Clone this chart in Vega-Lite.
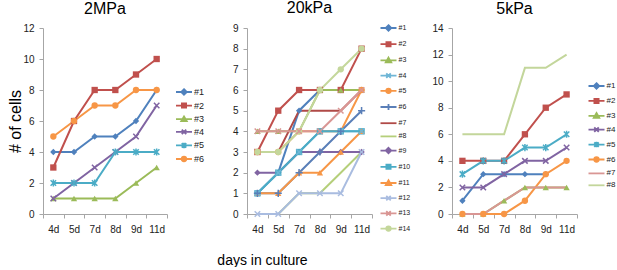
{
  "$schema": "https://vega.github.io/schema/vega-lite/v6.json",
  "background": "white",
  "padding": {"left": 7, "top": 0, "right": 0, "bottom": 0},
  "bounds": "flush",
  "spacing": 80,
  "data": {"values": [
    {"panel":"2MPa","series":"#1","day":"4d","cells":4},{"panel":"2MPa","series":"#1","day":"5d","cells":4},{"panel":"2MPa","series":"#1","day":"7d","cells":5},{"panel":"2MPa","series":"#1","day":"8d","cells":5},{"panel":"2MPa","series":"#1","day":"9d","cells":6},{"panel":"2MPa","series":"#1","day":"11d","cells":8},
    {"panel":"2MPa","series":"#2","day":"4d","cells":3},{"panel":"2MPa","series":"#2","day":"5d","cells":6},{"panel":"2MPa","series":"#2","day":"7d","cells":8},{"panel":"2MPa","series":"#2","day":"8d","cells":8},{"panel":"2MPa","series":"#2","day":"9d","cells":9},{"panel":"2MPa","series":"#2","day":"11d","cells":10},
    {"panel":"2MPa","series":"#3","day":"4d","cells":1},{"panel":"2MPa","series":"#3","day":"5d","cells":1},{"panel":"2MPa","series":"#3","day":"7d","cells":1},{"panel":"2MPa","series":"#3","day":"8d","cells":1},{"panel":"2MPa","series":"#3","day":"9d","cells":2},{"panel":"2MPa","series":"#3","day":"11d","cells":3},
    {"panel":"2MPa","series":"#4","day":"4d","cells":1},{"panel":"2MPa","series":"#4","day":"5d","cells":2},{"panel":"2MPa","series":"#4","day":"7d","cells":3},{"panel":"2MPa","series":"#4","day":"8d","cells":4},{"panel":"2MPa","series":"#4","day":"9d","cells":5},{"panel":"2MPa","series":"#4","day":"11d","cells":7},
    {"panel":"2MPa","series":"#5","day":"4d","cells":2},{"panel":"2MPa","series":"#5","day":"5d","cells":2},{"panel":"2MPa","series":"#5","day":"7d","cells":2},{"panel":"2MPa","series":"#5","day":"8d","cells":4},{"panel":"2MPa","series":"#5","day":"9d","cells":4},{"panel":"2MPa","series":"#5","day":"11d","cells":4},
    {"panel":"2MPa","series":"#6","day":"4d","cells":5},{"panel":"2MPa","series":"#6","day":"5d","cells":6},{"panel":"2MPa","series":"#6","day":"7d","cells":7},{"panel":"2MPa","series":"#6","day":"8d","cells":7},{"panel":"2MPa","series":"#6","day":"9d","cells":8},{"panel":"2MPa","series":"#6","day":"11d","cells":8},

    {"panel":"20kPa","series":"#1","day":"4d","cells":1},{"panel":"20kPa","series":"#1","day":"5d","cells":2},{"panel":"20kPa","series":"#1","day":"7d","cells":5},{"panel":"20kPa","series":"#1","day":"8d","cells":6},{"panel":"20kPa","series":"#1","day":"9d","cells":6},{"panel":"20kPa","series":"#1","day":"11d","cells":6},
    {"panel":"20kPa","series":"#2","day":"4d","cells":3},{"panel":"20kPa","series":"#2","day":"5d","cells":5},{"panel":"20kPa","series":"#2","day":"7d","cells":6},{"panel":"20kPa","series":"#2","day":"8d","cells":6},{"panel":"20kPa","series":"#2","day":"9d","cells":6},{"panel":"20kPa","series":"#2","day":"11d","cells":8},
    {"panel":"20kPa","series":"#3","day":"4d","cells":4},{"panel":"20kPa","series":"#3","day":"5d","cells":4},{"panel":"20kPa","series":"#3","day":"7d","cells":4},{"panel":"20kPa","series":"#3","day":"8d","cells":6},{"panel":"20kPa","series":"#3","day":"9d","cells":6},{"panel":"20kPa","series":"#3","day":"11d","cells":6},
    {"panel":"20kPa","series":"#4","day":"4d","cells":1},{"panel":"20kPa","series":"#4","day":"5d","cells":2},{"panel":"20kPa","series":"#4","day":"7d","cells":3},{"panel":"20kPa","series":"#4","day":"8d","cells":4},{"panel":"20kPa","series":"#4","day":"9d","cells":4},{"panel":"20kPa","series":"#4","day":"11d","cells":4},
    {"panel":"20kPa","series":"#5","day":"4d","cells":3},{"panel":"20kPa","series":"#5","day":"5d","cells":3},{"panel":"20kPa","series":"#5","day":"7d","cells":4},{"panel":"20kPa","series":"#5","day":"8d","cells":4},{"panel":"20kPa","series":"#5","day":"9d","cells":4},{"panel":"20kPa","series":"#5","day":"11d","cells":6},
    {"panel":"20kPa","series":"#6","day":"4d","cells":1},{"panel":"20kPa","series":"#6","day":"5d","cells":1},{"panel":"20kPa","series":"#6","day":"7d","cells":2},{"panel":"20kPa","series":"#6","day":"8d","cells":3},{"panel":"20kPa","series":"#6","day":"9d","cells":4},{"panel":"20kPa","series":"#6","day":"11d","cells":5},
    {"panel":"20kPa","series":"#7","day":"4d","cells":3},{"panel":"20kPa","series":"#7","day":"5d","cells":3},{"panel":"20kPa","series":"#7","day":"7d","cells":5},{"panel":"20kPa","series":"#7","day":"8d","cells":5},{"panel":"20kPa","series":"#7","day":"9d","cells":5},{"panel":"20kPa","series":"#7","day":"11d","cells":6},
    {"panel":"20kPa","series":"#8","day":"4d","cells":0},{"panel":"20kPa","series":"#8","day":"5d","cells":0},{"panel":"20kPa","series":"#8","day":"7d","cells":1},{"panel":"20kPa","series":"#8","day":"8d","cells":1},{"panel":"20kPa","series":"#8","day":"9d","cells":2},{"panel":"20kPa","series":"#8","day":"11d","cells":3},
    {"panel":"20kPa","series":"#9","day":"4d","cells":2},{"panel":"20kPa","series":"#9","day":"5d","cells":2},{"panel":"20kPa","series":"#9","day":"7d","cells":3},{"panel":"20kPa","series":"#9","day":"8d","cells":3},{"panel":"20kPa","series":"#9","day":"9d","cells":3},{"panel":"20kPa","series":"#9","day":"11d","cells":3},
    {"panel":"20kPa","series":"#10","day":"4d","cells":1},{"panel":"20kPa","series":"#10","day":"5d","cells":2},{"panel":"20kPa","series":"#10","day":"7d","cells":3},{"panel":"20kPa","series":"#10","day":"8d","cells":4},{"panel":"20kPa","series":"#10","day":"9d","cells":4},{"panel":"20kPa","series":"#10","day":"11d","cells":4},
    {"panel":"20kPa","series":"#11","day":"4d","cells":1},{"panel":"20kPa","series":"#11","day":"5d","cells":1},{"panel":"20kPa","series":"#11","day":"7d","cells":2},{"panel":"20kPa","series":"#11","day":"8d","cells":2},{"panel":"20kPa","series":"#11","day":"9d","cells":3},{"panel":"20kPa","series":"#11","day":"11d","cells":4},
    {"panel":"20kPa","series":"#12","day":"4d","cells":0},{"panel":"20kPa","series":"#12","day":"5d","cells":0},{"panel":"20kPa","series":"#12","day":"7d","cells":1},{"panel":"20kPa","series":"#12","day":"8d","cells":1},{"panel":"20kPa","series":"#12","day":"9d","cells":1},{"panel":"20kPa","series":"#12","day":"11d","cells":3},
    {"panel":"20kPa","series":"#13","day":"4d","cells":4},{"panel":"20kPa","series":"#13","day":"5d","cells":4},{"panel":"20kPa","series":"#13","day":"7d","cells":4},{"panel":"20kPa","series":"#13","day":"8d","cells":4},{"panel":"20kPa","series":"#13","day":"9d","cells":5},{"panel":"20kPa","series":"#13","day":"11d","cells":6},
    {"panel":"20kPa","series":"#14","day":"4d","cells":3},{"panel":"20kPa","series":"#14","day":"5d","cells":3},{"panel":"20kPa","series":"#14","day":"7d","cells":4},{"panel":"20kPa","series":"#14","day":"8d","cells":6},{"panel":"20kPa","series":"#14","day":"9d","cells":7},{"panel":"20kPa","series":"#14","day":"11d","cells":8},

    {"panel":"5kPa","series":"#1","day":"4d","cells":1},{"panel":"5kPa","series":"#1","day":"5d","cells":3},{"panel":"5kPa","series":"#1","day":"7d","cells":3},{"panel":"5kPa","series":"#1","day":"8d","cells":3},{"panel":"5kPa","series":"#1","day":"9d","cells":3},
    {"panel":"5kPa","series":"#2","day":"4d","cells":4},{"panel":"5kPa","series":"#2","day":"5d","cells":4},{"panel":"5kPa","series":"#2","day":"7d","cells":4},{"panel":"5kPa","series":"#2","day":"8d","cells":6},{"panel":"5kPa","series":"#2","day":"9d","cells":8},{"panel":"5kPa","series":"#2","day":"11d","cells":9},
    {"panel":"5kPa","series":"#3","day":"4d","cells":0},{"panel":"5kPa","series":"#3","day":"5d","cells":0},{"panel":"5kPa","series":"#3","day":"7d","cells":1},{"panel":"5kPa","series":"#3","day":"8d","cells":2},{"panel":"5kPa","series":"#3","day":"9d","cells":2},{"panel":"5kPa","series":"#3","day":"11d","cells":2},
    {"panel":"5kPa","series":"#4","day":"4d","cells":2},{"panel":"5kPa","series":"#4","day":"5d","cells":2},{"panel":"5kPa","series":"#4","day":"7d","cells":3},{"panel":"5kPa","series":"#4","day":"8d","cells":4},{"panel":"5kPa","series":"#4","day":"9d","cells":4},{"panel":"5kPa","series":"#4","day":"11d","cells":5},
    {"panel":"5kPa","series":"#5","day":"4d","cells":3},{"panel":"5kPa","series":"#5","day":"5d","cells":4},{"panel":"5kPa","series":"#5","day":"7d","cells":4},{"panel":"5kPa","series":"#5","day":"8d","cells":5},{"panel":"5kPa","series":"#5","day":"9d","cells":5},{"panel":"5kPa","series":"#5","day":"11d","cells":6},
    {"panel":"5kPa","series":"#6","day":"4d","cells":0},{"panel":"5kPa","series":"#6","day":"5d","cells":0},{"panel":"5kPa","series":"#6","day":"7d","cells":0},{"panel":"5kPa","series":"#6","day":"8d","cells":1},{"panel":"5kPa","series":"#6","day":"9d","cells":3},{"panel":"5kPa","series":"#6","day":"11d","cells":4},
    {"panel":"5kPa","series":"#7","day":"4d","cells":0},{"panel":"5kPa","series":"#7","day":"5d","cells":0},{"panel":"5kPa","series":"#7","day":"7d","cells":1},{"panel":"5kPa","series":"#7","day":"8d","cells":2},{"panel":"5kPa","series":"#7","day":"9d","cells":2},{"panel":"5kPa","series":"#7","day":"11d","cells":2},
    {"panel":"5kPa","series":"#8","day":"4d","cells":6},{"panel":"5kPa","series":"#8","day":"5d","cells":6},{"panel":"5kPa","series":"#8","day":"7d","cells":6},{"panel":"5kPa","series":"#8","day":"8d","cells":11},{"panel":"5kPa","series":"#8","day":"9d","cells":11},{"panel":"5kPa","series":"#8","day":"11d","cells":12}
  ]},
  "resolve": {"scale": {"color": "independent", "shape": "independent"}, "legend": {"color": "independent", "shape": "independent"}},
  "hconcat": [
    {
      "width": 124, "height": 186,
      "title": {"text": "2MPa", "fontSize": 16, "fontWeight": "normal", "offset": 6, "color": "#000"},
      "transform": [{"filter": "datum.panel === '2MPa'"}],
      "encoding": {
        "x": {"field": "day", "type": "ordinal", "sort": ["4d","5d","7d","8d","9d","11d"], "bandPosition": 0.5,
              "scale": {"type": "band", "paddingInner": 0, "paddingOuter": 0},
              "axis": {"title": "days in culture", "titleX": 219, "titleY": 46, "titleBaseline": "middle", "titleAlign": "center", "titleFontSize": 14, "titleFontWeight": "normal", "titleColor": "#000", "tickBand": "extent", "labelAngle": 0, "labelOverlap": false, "labelFontSize": 10, "labelColor": "#222", "labelPadding": 6, "tickSize": 4, "domainColor": "#A6A6A6", "tickColor": "#A6A6A6"}},
        "y": {"field": "cells", "type": "quantitative", "scale": {"domain": [0, 12], "nice": false},
              "axis": {"values": [0,2,4,6,8,10,12], "grid": false, "title": "# of cells", "titleFontSize": 16, "titleFontWeight": "normal", "titleColor": "#000", "titlePadding": -1, "labelFontSize": 10, "labelColor": "#222", "labelPadding": 5, "tickSize": 4, "domainColor": "#A6A6A6", "tickColor": "#A6A6A6"}},
        "color": {"field": "series", "type": "nominal",
                  "scale": {"domain": ["#1","#2","#3","#4","#5","#6"], "range": ["#4F81BD","#C0504D","#9BBB59","#8064A2","#4BACC6","#F79646"]},
                  "legend": {"title": null, "orient": "none", "legendX": 135, "legendY": 58, "padding": 0, "symbolSize": 100, "rowPadding": 0.6, "labelOffset": 4, "labelFontSize": 9, "labelColor": "#222",
                    "encode": {"symbols": {"update": {
                      "shape": {"signal": "{'#1':'M-1.6,0L1.6,0M0,-0.55L0.55,0L0,0.55L-0.55,0Z','#2':'M-1.6,0L1.6,0M-0.42,-0.42L0.42,-0.42L0.42,0.42L-0.42,0.42Z','#3':'M-1.6,0L1.6,0M0,-0.55L0.55,0.4L-0.55,0.4Z','#4':'M-1.6,0L1.6,0M-0.45,-0.45L0.45,0.45M0.45,-0.45L-0.45,0.45','#5':'M-1.6,0L1.6,0M-0.45,-0.45L0.45,0.45M0.45,-0.45L-0.45,0.45M0,-0.55L0,0.55','#6':'M-1.6,0L1.6,0M0.45,0A0.45,0.45,0,1,1,-0.45,0A0.45,0.45,0,1,1,0.45,0Z'}[datum.value]"},
                      "fill": {"signal": "{'#1':'#4F81BD','#2':'#C0504D','#3':'#9BBB59','#4':'#8064A2','#5':'#4BACC6','#6':'#F79646'}[datum.value]"},
                      "stroke": {"signal": "{'#1':'#4F81BD','#2':'#C0504D','#3':'#9BBB59','#4':'#8064A2','#5':'#4BACC6','#6':'#F79646'}[datum.value]"},
                      "size": {"value": 100},
                      "strokeWidth": {"value": 1.8}, "opacity": {"value": 1}, "fillOpacity": {"value": 1}, "strokeOpacity": {"value": 1}}}}}}
      },
      "layer": [
        {"mark": {"type": "line", "strokeWidth": 2}},
        {"transform": [{"filter": {"field": "series", "oneOf": ["#1","#2","#3","#6"]}}],
         "mark": {"type": "point", "filled": true, "opacity": 1, "size": 40},
         "encoding": {"shape": {"field": "series", "type": "nominal", "legend": null, "scale": {"domain": ["#1","#2","#3","#4","#5","#6","none"], "range": ["diamond","square","triangle-up","M-1,-1L1,1M1,-1L-1,1","M-1,-1L1,1M1,-1L-1,1M0,-1.3L0,1.3","circle","circle"]}}}},
        {"transform": [{"filter": {"field": "series", "oneOf": ["#4","#5"]}}],
         "mark": {"type": "point", "filled": false, "opacity": 1, "size": 30, "strokeWidth": 1.5},
         "encoding": {"shape": {"field": "series", "type": "nominal", "legend": null, "scale": {"domain": ["#1","#2","#3","#4","#5","#6","none"], "range": ["diamond","square","triangle-up","M-1,-1L1,1M1,-1L-1,1","M-1,-1L1,1M1,-1L-1,1M0,-1.3L0,1.3","circle","circle"]}}}}
      ]
    },
    {
      "width": 125, "height": 186,
      "title": {"text": "20kPa", "fontSize": 16, "fontWeight": "normal", "offset": 6, "color": "#000"},
      "transform": [{"filter": "datum.panel === '20kPa'"}],
      "encoding": {
        "x": {"field": "day", "type": "ordinal", "sort": ["4d","5d","7d","8d","9d","11d"], "bandPosition": 0.5,
              "scale": {"type": "band", "paddingInner": 0, "paddingOuter": 0},
              "axis": {"title": null, "tickBand": "extent", "labelAngle": 0, "labelOverlap": false, "labelFontSize": 10, "labelColor": "#222", "labelPadding": 6, "tickSize": 4, "domainColor": "#A6A6A6", "tickColor": "#A6A6A6"}},
        "y": {"field": "cells", "type": "quantitative", "scale": {"domain": [0, 9], "nice": false},
              "axis": {"values": [0,1,2,3,4,5,6,7,8,9], "grid": false, "title": null, "labelFontSize": 10, "labelColor": "#222", "labelPadding": 5, "tickSize": 4, "domainColor": "#A6A6A6", "tickColor": "#A6A6A6"}},
        "color": {"field": "series", "type": "nominal",
                  "scale": {"domain": ["#1","#2","#3","#4","#5","#6","#7","#8","#9","#10","#11","#12","#13","#14"], "range": ["#4F81BD","#C0504D","#9BBB59","#6FB6D6","#F79646","#5A7FB8","#B04A47","#B5CF7A","#8064A2","#4BACC6","#F79646","#A9BCE0","#D99694","#C4D79B"]},
                  "legend": {"title": null, "orient": "none", "legendX": 135.5, "legendY": -6, "padding": 0, "symbolSize": 100, "rowPadding": 3.2, "labelOffset": 4, "labelFontSize": 7, "labelColor": "#222",
                    "encode": {"symbols": {"update": {
                      "shape": {"signal": "{'#1':'M-1.6,0L1.6,0M0,-0.55L0.55,0L0,0.55L-0.55,0Z','#2':'M-1.6,0L1.6,0M-0.42,-0.42L0.42,-0.42L0.42,0.42L-0.42,0.42Z','#3':'M-1.6,0L1.6,0M0,-0.55L0.55,0.4L-0.55,0.4Z','#4':'M-1.6,0L1.6,0M-0.45,-0.45L0.45,0.45M0.45,-0.45L-0.45,0.45','#5':'M-1.6,0L1.6,0M0.45,0A0.45,0.45,0,1,1,-0.45,0A0.45,0.45,0,1,1,0.45,0Z','#6':'M-1.6,0L1.6,0M0,-0.6L0,0.6','#7':'M-1.6,0L1.6,0','#8':'M-1.6,0L1.6,0','#9':'M-1.6,0L1.6,0M0,-0.55L0.55,0L0,0.55L-0.55,0Z','#10':'M-1.6,0L1.6,0M-0.42,-0.42L0.42,-0.42L0.42,0.42L-0.42,0.42Z','#11':'M-1.6,0L1.6,0M0,-0.55L0.55,0.4L-0.55,0.4Z','#12':'M-1.6,0L1.6,0M-0.45,-0.45L0.45,0.45M0.45,-0.45L-0.45,0.45','#13':'M-1.6,0L1.6,0M-0.45,-0.45L0.45,0.45M0.45,-0.45L-0.45,0.45','#14':'M-1.6,0L1.6,0M0.45,0A0.45,0.45,0,1,1,-0.45,0A0.45,0.45,0,1,1,0.45,0Z'}[datum.value]"},
                      "fill": {"signal": "{'#1':'#4F81BD','#2':'#C0504D','#3':'#9BBB59','#4':'#6FB6D6','#5':'#F79646','#6':'#5A7FB8','#7':'#B04A47','#8':'#B5CF7A','#9':'#8064A2','#10':'#4BACC6','#11':'#F79646','#12':'#A9BCE0','#13':'#D99694','#14':'#C4D79B'}[datum.value]"},
                      "stroke": {"signal": "{'#1':'#4F81BD','#2':'#C0504D','#3':'#9BBB59','#4':'#6FB6D6','#5':'#F79646','#6':'#5A7FB8','#7':'#B04A47','#8':'#B5CF7A','#9':'#8064A2','#10':'#4BACC6','#11':'#F79646','#12':'#A9BCE0','#13':'#D99694','#14':'#C4D79B'}[datum.value]"},
                      "size": {"value": 100},
                      "strokeWidth": {"value": 1.8}, "opacity": {"value": 1}, "fillOpacity": {"value": 1}, "strokeOpacity": {"value": 1}}}}}}
      },
      "layer": [
        {"mark": {"type": "line", "strokeWidth": 2}},
        {"transform": [{"filter": {"field": "series", "oneOf": ["#1","#2","#3","#5","#9","#10","#11","#14"]}}],
         "mark": {"type": "point", "filled": true, "opacity": 1, "size": 40},
         "encoding": {"shape": {"field": "series", "type": "nominal", "legend": null, "scale": {"domain": ["#1","#2","#3","#4","#5","#6","#9","#10","#11","#12","#13","#14"], "range": ["diamond","square","triangle-up","M-1,-1L1,1M1,-1L-1,1","circle","M-1.3,0L1.3,0M0,-1.3L0,1.3","diamond","square","triangle-up","M-1,-1L1,1M1,-1L-1,1","M-1,-1L1,1M1,-1L-1,1","circle"]}}}},
        {"transform": [{"filter": {"field": "series", "oneOf": ["#4","#6","#12","#13"]}}],
         "mark": {"type": "point", "filled": false, "opacity": 1, "size": 30, "strokeWidth": 1.5},
         "encoding": {"shape": {"field": "series", "type": "nominal", "legend": null, "scale": {"domain": ["#1","#2","#3","#4","#5","#6","#9","#10","#11","#12","#13","#14"], "range": ["diamond","square","triangle-up","M-1,-1L1,1M1,-1L-1,1","circle","M-1.3,0L1.3,0M0,-1.3L0,1.3","diamond","square","triangle-up","M-1,-1L1,1M1,-1L-1,1","M-1,-1L1,1M1,-1L-1,1","circle"]}}}}
      ]
    },
    {
      "width": 125, "height": 186,
      "title": {"text": "5kPa", "fontSize": 16, "fontWeight": "normal", "offset": 6, "color": "#000"},
      "transform": [{"filter": "datum.panel === '5kPa'"}],
      "encoding": {
        "x": {"field": "day", "type": "ordinal", "sort": ["4d","5d","7d","8d","9d","11d"], "bandPosition": 0.5,
              "scale": {"type": "band", "paddingInner": 0, "paddingOuter": 0},
              "axis": {"title": null, "tickBand": "extent", "labelAngle": 0, "labelOverlap": false, "labelFontSize": 10, "labelColor": "#222", "labelPadding": 6, "tickSize": 4, "domainColor": "#A6A6A6", "tickColor": "#A6A6A6"}},
        "y": {"field": "cells", "type": "quantitative", "scale": {"domain": [0, 14], "nice": false},
              "axis": {"values": [0,2,4,6,8,10,12,14], "grid": false, "title": null, "labelFontSize": 10, "labelColor": "#222", "labelPadding": 5, "tickSize": 4, "domainColor": "#A6A6A6", "tickColor": "#A6A6A6"}},
        "color": {"field": "series", "type": "nominal",
                  "scale": {"domain": ["#1","#2","#3","#4","#5","#6","#7","#8"], "range": ["#4F81BD","#C0504D","#9BBB59","#8064A2","#4BACC6","#F79646","#D99694","#C3D69B"]},
                  "legend": {"title": null, "orient": "none", "legendX": 138.5, "legendY": 52, "padding": 0, "symbolSize": 100, "rowPadding": 1.9, "labelOffset": 4, "labelFontSize": 8, "labelColor": "#222",
                    "encode": {"symbols": {"update": {
                      "shape": {"signal": "{'#1':'M-1.6,0L1.6,0M0,-0.55L0.55,0L0,0.55L-0.55,0Z','#2':'M-1.6,0L1.6,0M-0.42,-0.42L0.42,-0.42L0.42,0.42L-0.42,0.42Z','#3':'M-1.6,0L1.6,0M0,-0.55L0.55,0.4L-0.55,0.4Z','#4':'M-1.6,0L1.6,0M-0.45,-0.45L0.45,0.45M0.45,-0.45L-0.45,0.45','#5':'M-1.6,0L1.6,0M-0.45,-0.45L0.45,0.45M0.45,-0.45L-0.45,0.45M0,-0.55L0,0.55','#6':'M-1.6,0L1.6,0M0.45,0A0.45,0.45,0,1,1,-0.45,0A0.45,0.45,0,1,1,0.45,0Z','#7':'M-1.6,0L1.6,0','#8':'M-1.6,0L1.6,0'}[datum.value]"},
                      "fill": {"signal": "{'#1':'#4F81BD','#2':'#C0504D','#3':'#9BBB59','#4':'#8064A2','#5':'#4BACC6','#6':'#F79646','#7':'#D99694','#8':'#C3D69B'}[datum.value]"},
                      "stroke": {"signal": "{'#1':'#4F81BD','#2':'#C0504D','#3':'#9BBB59','#4':'#8064A2','#5':'#4BACC6','#6':'#F79646','#7':'#D99694','#8':'#C3D69B'}[datum.value]"},
                      "size": {"value": 100},
                      "strokeWidth": {"value": 1.8}, "opacity": {"value": 1}, "fillOpacity": {"value": 1}, "strokeOpacity": {"value": 1}}}}}}
      },
      "layer": [
        {"mark": {"type": "line", "strokeWidth": 2}},
        {"transform": [{"filter": {"field": "series", "oneOf": ["#1","#2","#3","#6"]}}],
         "mark": {"type": "point", "filled": true, "opacity": 1, "size": 40},
         "encoding": {"shape": {"field": "series", "type": "nominal", "legend": null, "scale": {"domain": ["#1","#2","#3","#4","#5","#6","none"], "range": ["diamond","square","triangle-up","M-1,-1L1,1M1,-1L-1,1","M-1,-1L1,1M1,-1L-1,1M0,-1.3L0,1.3","circle","circle"]}}}},
        {"transform": [{"filter": {"field": "series", "oneOf": ["#4","#5"]}}],
         "mark": {"type": "point", "filled": false, "opacity": 1, "size": 30, "strokeWidth": 1.5},
         "encoding": {"shape": {"field": "series", "type": "nominal", "legend": null, "scale": {"domain": ["#1","#2","#3","#4","#5","#6","none"], "range": ["diamond","square","triangle-up","M-1,-1L1,1M1,-1L-1,1","M-1,-1L1,1M1,-1L-1,1M0,-1.3L0,1.3","circle","circle"]}}}}
      ]
    }
  ],
  "config": {"font": "Liberation Sans", "view": {"stroke": null}}
}
